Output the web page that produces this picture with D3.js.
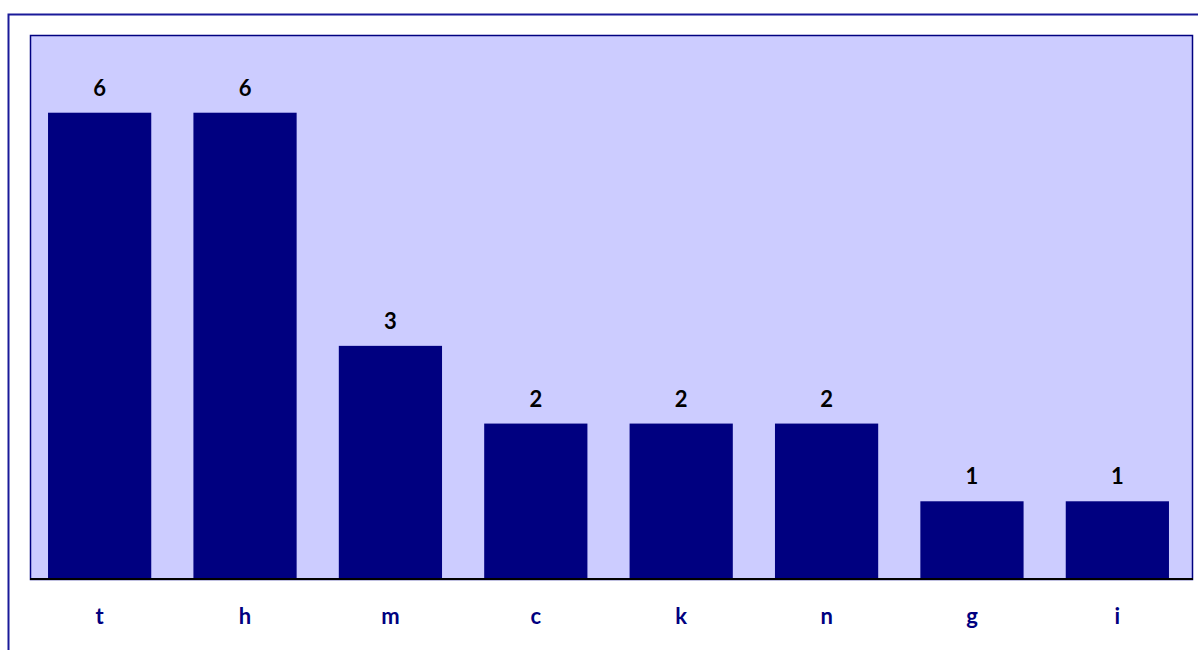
<!DOCTYPE html>
<html>
<head>
<meta charset="utf-8">
<script src="https://cdn.jsdelivr.net/npm/d3@7"></script>
<style>
  body { margin: 0; background: #fff; }
  svg { display: block; }
</style>
</head>
<body>
<div id="chart"></div>
<script>
var categories = ["t", "h", "m", "c", "k", "n", "g", "i"];
var counts = [6, 6, 3, 2, 2, 2, 1, 1];
var yMax = 7;

var W = 1198, H = 650;
var plot = {left: 30, top: 35, right: 1192, bottom: 579};
var font = "Lato, 'Open Sans', sans-serif";

var svg = d3.select("#chart").append("svg")
    .attr("width", W)
    .attr("height", H);

// outer frame (runs off the page right and bottom)
svg.append("rect")
    .attr("x", 8.5).attr("y", 14.5)
    .attr("width", W + 20).attr("height", H + 20)
    .attr("fill", "none")
    .attr("stroke", "#1a1a99")
    .attr("stroke-width", 2);

var x = d3.scaleBand()
    .domain(categories)
    .range([plot.left, plot.right - 5])
    .paddingInner(0.29)
    .paddingOuter(0.124);

var y = d3.scaleLinear()
    .domain([0, yMax])
    .range([plot.bottom, plot.top]);

svg.append("rect")
    .attr("x", plot.left + 0.5).attr("y", plot.top + 0.5)
    .attr("width", plot.right - plot.left).attr("height", plot.bottom - plot.top)
    .attr("fill", "#ccccff")
    .attr("stroke", "#000080")
    .attr("stroke-width", 1.5);

svg.selectAll(".bar")
    .data(categories)
    .enter().append("rect")
    .attr("class", "bar")
    .attr("x", function(d) { return x(d); })
    .attr("y", function(d, i) { return y(counts[i]); })
    .attr("width", x.bandwidth())
    .attr("height", function(d, i) { return y(0) - y(counts[i]); })
    .attr("fill", "#000080");

svg.selectAll(".val")
    .data(categories)
    .enter().append("text")
    .attr("class", "val")
    .attr("x", function(d) { return x(d) + x.bandwidth() / 2; })
    .attr("y", function(d, i) { return y(counts[i]) - 17; })
    .attr("text-anchor", "middle")
    .attr("font-family", font)
    .attr("font-weight", "bold")
    .attr("font-size", 22)
    .attr("fill", "#000")
    .text(function(d, i) { return counts[i]; });

var xAxis = d3.axisBottom(x).tickSize(0).tickPadding(0);
var gx = svg.append("g")
    .attr("transform", "translate(0," + plot.bottom + ")")
    .call(xAxis);
gx.select(".domain")
    .attr("stroke", "#000")
    .attr("stroke-width", 2)
    .attr("d", "M" + plot.left + ",0H" + (plot.right + 1));
gx.selectAll("text")
    .attr("dy", 0)
    .attr("y", 45)
    .attr("font-family", font)
    .attr("font-weight", "bold")
    .attr("font-size", 22)
    .attr("fill", "#000080");
</script>
</body>
</html>
